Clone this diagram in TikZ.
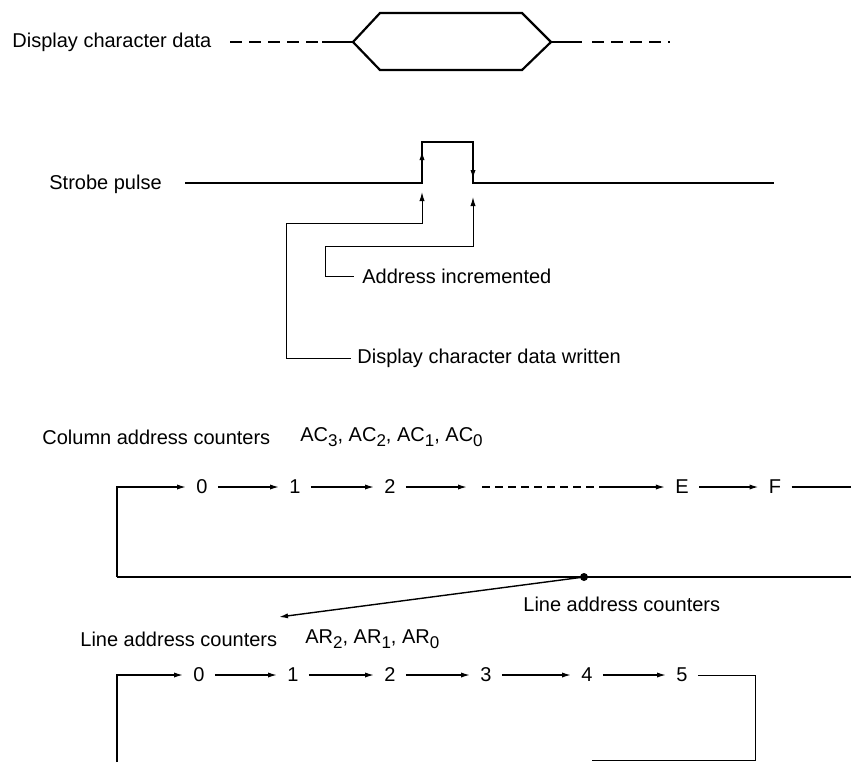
\documentclass[tikz,border=0pt]{standalone}
\usepackage{fontspec}
\setmainfont{Liberation Sans}
\usetikzlibrary{arrows.meta}
\newcommand\lowidx[1]{\raisebox{-0.45ex}{\fontsize{8.5}{9}\selectfont #1}}
\begin{document}
\begin{tikzpicture}
                [
                x=0.5pt,y=-0.5pt,
                label/.style={font=\fontsize{10}{12}\selectfont,inner sep=0pt,anchor=west},
                count/.style={font=\fontsize{10}{12}\selectfont,inner sep=5pt},
                edge/.style={->,> = {Latex[length=4.5pt,width=2.6pt]},line width=0.7pt},
                wire/.style={line width=0.5pt,> = {Latex[length=4.5pt,width=2.6pt]}},
                bus/.style={line width=1.1pt}
                ]
            \useasboundingbox (0,0) rectangle (851,762);
            % display character data
            \node[label] (data) at (12,42) {Display character data};
            \draw[bus,dash pattern=on 6pt off 3.5pt] (230,42) -- (322,42);
            \draw[bus] (322,42) -- (353,42);
            \draw[bus,line join=miter] (353,42) -- (380,13) -- (522,13) -- (551,42) -- (522,70) -- (380,70) -- cycle;
            \draw[bus] (551,42) -- (582,42);
            \draw[bus,dash pattern=on 6pt off 3.5pt] (592,42) -- (670,42);
            % strobe pulse
            \node[label] (strobe) at (49,184) {Strobe pulse};
            \draw[bus] (185,183) -- (422,183) -- (422,142) -- (473,142) -- (473,183) -- (774,183);
            \draw[edge] (422,172) -- (422,151);
            \draw[edge] (473,158) -- (473,179);
            \node[label] (incr) at (362,276) {Address incremented};
            \node[label] (written) at (357,358) {Display character data written};
            \draw[wire,<-] (422,192) |- (286,223) |- ([xshift=-3pt]written.west);
            \draw[wire,<-] (473,197) |- (325,246) |- ([xshift=-4pt]incr.west);
            % column address counters
            \node[label] (col) at (42,437) {Column address counters};
            \node[label] (colbits) at (300,437) {AC\lowidx{3}, AC\lowidx{2}, AC\lowidx{1}, AC\lowidx{0}};
            \node[count] (c0) at (202,487) {0};
            \node[count] (c1) at (295,487) {1};
            \node[count] (c2) at (390,487) {2};
            \node[count] (cE) at (682,487) {E};
            \node[count] (cF) at (775,487) {F};
            \coordinate (cgap) at (467,487);
            \coordinate (cdash) at (482,487);
            \coordinate (cdots) at (605,487);
            \coordinate (cout) at (851,487);
            \coordinate (cbot) at (117,577);
            \coordinate (cret) at (851,577);
            \coordinate (cdot) at (584,577);
            \draw[edge] (cbot) |- (c0);
            \draw[edge] (c0) -- (c1);
            \draw[edge] (c1) -- (c2);
            \draw[edge] (c2) -- (cgap);
            \draw[line width=0.7pt,dash pattern=on 4pt off 2.5pt] (cdash) -- (cdots);
            \draw[edge] (cdots) -- (cE);
            \draw[edge] (cE) -- (cF);
            \draw[line width=0.7pt] (cF) -- (cout);
            \draw[line width=0.9pt] (cbot) -- (cret);
            \fill (cdot) circle (2pt);
            % to line address counters
            \node[label] (lineret) at (523,604) {Line address counters};
            \coordinate (ltip) at (279,617);
            \draw[edge] (cdot) -- (ltip);
            \node[label] (line) at (80,639) {Line address counters};
            \node[label] (linebits) at (305,639) {AR\lowidx{2}, AR\lowidx{1}, AR\lowidx{0}};
            \node[count] (l0) at (199,675) {0};
            \node[count] (l1) at (293,675) {1};
            \node[count] (l2) at (390,675) {2};
            \node[count] (l3) at (486,675) {3};
            \node[count] (l4) at (587,675) {4};
            \node[count] (l5) at (682,675) {5};
            \coordinate (lbot) at (117,762);
            \coordinate (lright) at (755,675);
            \coordinate (lcorner) at (755,760);
            \coordinate (lend) at (592,760);
            \draw[edge] (lbot) |- (l0);
            \draw[edge] (l0) -- (l1);
            \draw[edge] (l1) -- (l2);
            \draw[edge] (l2) -- (l3);
            \draw[edge] (l3) -- (l4);
            \draw[edge] (l4) -- (l5);
            \draw[wire] (l5) -- (lright) -- (lcorner) -- (lend);
            \end{tikzpicture}
\end{document}
